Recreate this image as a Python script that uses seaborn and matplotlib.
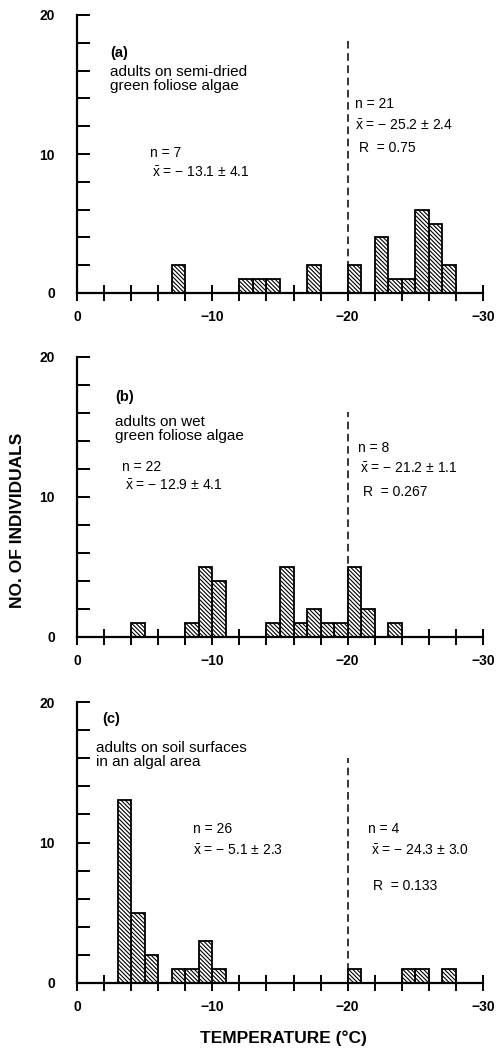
import numpy as np
import pandas as pd
import matplotlib
matplotlib.use("Agg")
import matplotlib.pyplot as plt
import seaborn as sns
from matplotlib.ticker import MultipleLocator

# ---------------- data (bin midpoints in °C, counts) ----------------
temps_a = [-7.5, -12.5, -13.5, -14.5, -17.5, -20.5, -22.5, -23.5, -24.5, -25.5, -26.5, -27.5]
counts_a = [2, 1, 1, 1, 2, 2, 4, 1, 1, 6, 5, 2]

temps_b = [-4.5, -8.5, -9.5, -10.5, -14.5, -15.5, -16.5, -17.5, -18.5, -19.5, -20.5, -21.5, -23.5]
counts_b = [1, 1, 5, 4, 1, 5, 1, 2, 1, 1, 5, 2, 1]

temps_c = [-3.5, -4.5, -5.5, -7.5, -8.5, -9.5, -10.5, -20.5, -24.5, -25.5, -27.5]
counts_c = [13, 5, 2, 1, 1, 3, 1, 1, 1, 1, 1]

panel_labels = ["(a)", "(b)", "(c)"]
panel_desc = ["adults on semi-dried\ngreen foliose algae",
              "adults on wet\ngreen foliose algae",
              "adults on soil surfaces\nin an algal area"]
left_n = ["n = 7", "n = 22", "n = 26"]
left_mean = [r"$\bar{\mathrm{x}}$ = − 13.1 ± 4.1", r"$\bar{\mathrm{x}}$ = − 12.9 ± 4.1", r"$\bar{\mathrm{x}}$ = − 5.1 ± 2.3"]
right_n = ["n = 21", "n = 8", "n = 4"]
right_mean = [r"$\bar{\mathrm{x}}$ = − 25.2 ± 2.4", r"$\bar{\mathrm{x}}$ = − 21.2 ± 1.1", r"$\bar{\mathrm{x}}$ = − 24.3 ± 3.0"]
right_R = ["R  = 0.75", "R  = 0.267", "R  = 0.133"]
split_temp = -20
dash_top = [18.2, 16.1, 16.0]
xtick_vals = [0, -10, -20, -30]
xtick_labels = ["0", "−10", "−20", "−30"]
ytick_vals = [0, 10, 20]
ytick_labels = ["0", "10", "20"]

# ---------------- style ----------------
sns.set_theme(style="white")
plt.rcParams["font.family"] = ["Liberation Sans", "DejaVu Sans"]
plt.rcParams["mathtext.fontset"] = "custom"
plt.rcParams["mathtext.rm"] = "Liberation Sans"
plt.rcParams["hatch.linewidth"] = 0.8
plt.rcParams["hatch.color"] = "black"
plt.rcParams["text.color"] = "black"
plt.rcParams["axes.labelcolor"] = "black"
plt.rcParams["xtick.color"] = "black"
plt.rcParams["ytick.color"] = "black"

W, H = 498, 1048
fig = plt.figure(figsize=(W / 100, H / 100), dpi=100)

def fx(px):
    return px / W

def fy(py):
    return 1 - py / H

# axes geometry (pixels): left, right, top(20), bottom(0)
x_left, x_right = 77, 483
panels_px = [(15, 293), (357, 637), (702, 983)]

datasets = [(temps_a, counts_a), (temps_b, counts_b), (temps_c, counts_c)]

axes = []
for i, ((t, c), (ptop, pbot)) in enumerate(zip(datasets, panels_px)):
    ax = fig.add_axes([fx(x_left), fy(pbot), fx(x_right - x_left), (pbot - ptop) / H])
    axes.append(ax)
    df = pd.DataFrame({"temp": t, "count": c})
    sns.histplot(data=df, x="temp", weights="count", binwidth=1, binrange=(-30, 0), ax=ax,
                 color="white", edgecolor="black", linewidth=1.3, alpha=1,
                 hatch="\\" * 8, zorder=2)
    ax.set_xlim(0, -30)
    ax.set_ylim(0, 20)
    ax.set_xlabel("")
    ax.set_ylabel("")
    for s in ["top", "right"]:
        ax.spines[s].set_visible(False)
    for s in ["left", "bottom"]:
        ax.spines[s].set_linewidth(1.6)
        ax.spines[s].set_color("black")
        ax.spines[s].set_zorder(3)
    ax.set_xticks(xtick_vals)
    ax.set_xticklabels(xtick_labels, fontsize=10, fontweight="bold")
    ax.xaxis.set_minor_locator(MultipleLocator(2))
    ax.set_yticks(ytick_vals)
    ax.set_yticklabels(ytick_labels, fontsize=10, fontweight="bold")
    ax.yaxis.set_minor_locator(MultipleLocator(2))
    ax.tick_params(axis="x", which="both", direction="inout", length=12, width=1.4,
                   bottom=True, pad=6, colors="black")
    ax.tick_params(axis="y", which="both", direction="in", length=9, width=1.4,
                   left=True, pad=16, colors="black")
    ax.vlines(split_temp, 0, dash_top[i], colors="black", linestyles=(0, (5, 3)),
              linewidth=1.1, zorder=1)
    ax.patch.set_alpha(0)

# ---------------- annotations (pixel positions) ----------------
txt = dict(fontsize=10, color="black", va="center", ha="left")
desc_kw = dict(fontsize=11, color="black", va="top", ha="left", linespacing=1.0)
lab_kw = dict(fontsize=10.5, fontweight="bold", color="black", va="center", ha="left")

# panel (a)
fig.text(fx(110), fy(53), panel_labels[0], **lab_kw)
fig.text(fx(110), fy(65), panel_desc[0], **desc_kw)
fig.text(fx(150), fy(153), left_n[0], **txt)
fig.text(fx(152), fy(173), left_mean[0], **txt)
fig.text(fx(355), fy(104), right_n[0], **txt)
fig.text(fx(355), fy(126), right_mean[0], **txt)
fig.text(fx(359), fy(148), right_R[0], **txt)

# panel (b)
fig.text(fx(115), fy(397), panel_labels[1], **lab_kw)
fig.text(fx(115), fy(415), panel_desc[1], **desc_kw)
fig.text(fx(122), fy(467), left_n[1], **txt)
fig.text(fx(125), fy(486), left_mean[1], **txt)
fig.text(fx(358), fy(448), right_n[1], **txt)
fig.text(fx(360), fy(469), right_mean[1], **txt)
fig.text(fx(363), fy(492), right_R[1], **txt)

# panel (c)
fig.text(fx(102), fy(719), panel_labels[2], **lab_kw)
fig.text(fx(96), fy(741), panel_desc[2], **desc_kw)
fig.text(fx(193), fy(829), left_n[2], **txt)
fig.text(fx(193), fy(851), left_mean[2], **txt)
fig.text(fx(368), fy(829), right_n[2], **txt)
fig.text(fx(371), fy(851), right_mean[2], **txt)
fig.text(fx(373), fy(886), right_R[2], **txt)

# axis titles
fig.text(fx(18), fy(520), "NO. OF INDIVIDUALS", rotation=90, fontsize=12.5,
         fontweight="bold", color="black", va="center", ha="center")
fig.text(fx(283), fy(1038), "TEMPERATURE (°C)", fontsize=12.5, fontweight="bold",
         color="black", va="center", ha="center")

fig.savefig("out.png", dpi=100, facecolor="white")
